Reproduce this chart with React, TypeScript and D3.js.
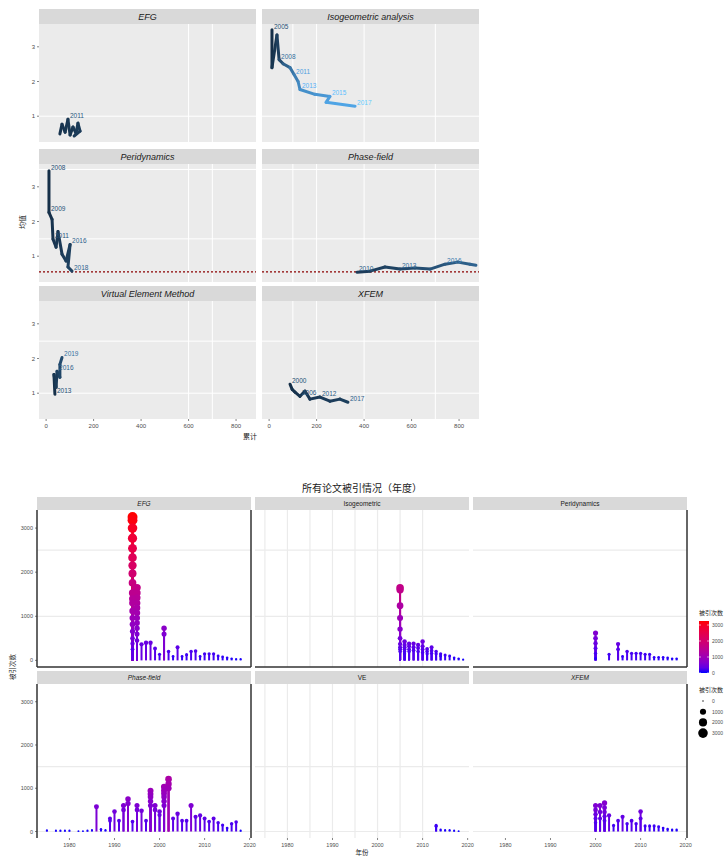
import React from "react";
import * as d3 from "d3";

const FONT = "'Liberation Sans', Arial, sans-serif";
const CJK = "'Noto Sans CJK SC', 'Noto Sans', sans-serif";

// ---------- top chart: trajectories (year, x, y, n) ----------
const topFacets = [
  "EFG",
  "Isogeometric analysis",
  "Peridynamics",
  "Phase-field",
  "Virtual Element Method",
  "XFEM",
];
const efgPath = [
  [2008, 58, 0.49, 6], [2009, 67, 0.77, 7], [2010, 80, 0.54, 8], [2011, 92, 0.91, 9],
  [2012, 101, 0.46, 8], [2013, 113, 0.69, 10], [2014, 126, 0.51, 12], [2015, 134, 0.8, 11],
  [2016, 143, 0.57, 13], [2017, 118, 0.43, 12],
];
const igaPath = [
  [2005, 12, 3.49, 3], [2006, 12, 2.4, 8], [2007, 33, 3.34, 15], [2008, 42, 2.63, 25],
  [2009, 59, 2.51, 40], [2010, 88, 2.4, 55], [2011, 105, 2.2, 62], [2012, 122, 2.0, 70],
  [2013, 130, 1.77, 75], [2014, 193, 1.63, 80], [2015, 256, 1.57, 86], [2016, 240, 1.4, 90],
  [2017, 362, 1.29, 95],
];
const periPath = [
  [2008, 12, 3.46, 2], [2009, 12, 2.26, 4], [2010, 25, 2.06, 6], [2011, 29, 1.49, 7],
  [2012, 42, 1.26, 9], [2013, 50, 1.71, 10], [2014, 67, 1.06, 12], [2015, 84, 0.86, 14],
  [2016, 101, 1.34, 15], [2017, 92, 0.69, 17], [2018, 109, 0.57, 18],
];
const phasePath = [
  [2010, 370, 0.54, 12], [2011, 425, 0.57, 15], [2012, 488, 0.69, 18], [2013, 551, 0.63, 22],
  [2014, 614, 0.66, 26], [2015, 678, 0.63, 30], [2016, 741, 0.77, 34], [2017, 795, 0.83, 38],
  [2018, 846, 0.77, 42], [2019, 871, 0.74, 46],
];
const vemPath = [
  [2013, 37, 0.97, 4], [2014, 33, 1.54, 8], [2015, 42, 1.17, 12], [2016, 46, 1.63, 16],
  [2017, 58, 1.46, 20], [2018, 58, 1.83, 24], [2019, 67, 2.03, 28],
];
const xfemPath = [
  [2000, 88, 1.26, 3], [2002, 97, 1.11, 5], [2004, 109, 1.03, 6], [2006, 130, 0.91, 8],
  [2008, 151, 1.06, 9], [2010, 172, 0.83, 10], [2012, 214, 0.89, 12], [2014, 256, 0.77, 13],
  [2016, 298, 0.83, 14], [2017, 332, 0.74, 15],
];
const topPaths = [efgPath, igaPath, periPath, phasePath, vemPath, xfemPath];
// years that get a text label in each panel
const topLabelYears = [
  [2011],
  [2005, 2008, 2011, 2013, 2015, 2017],
  [2008, 2009, 2011, 2016, 2018],
  [2010, 2013, 2016],
  [2013, 2016, 2019],
  [2000, 2006, 2012, 2017],
];
const topXTicks = [0, 200, 400, 600, 800];
const topYTicks = [1, 2, 3];
const topGridX = [[600, 700], [100, 200, 400, 700]];
const topGridY = [[1], [3.5, 1.5], [2.5, 1]];
const refLine = 0.55;

// ---------- bottom chart: citations per paper by year ----------
const bottomFacets = ["EFG", "Isogeometric", "Peridynamics", "Phase-field", "VE", "XFEM"];
const efgCites: [number, number[]][] = [
  [1994, [3250, 3180, 3000, 2770, 2540, 2330, 2150, 1970, 1760, 1530, 1400, 1300, 1120, 960, 820, 660, 500, 380, 250]],
  [1995, [1650, 1530, 1420, 1300, 1190, 1075, 960, 850, 730, 600, 450]],
  [1996, [365]], [1997, [400]], [1998, [400]], [1999, [270]], [2000, [140]],
  [2001, [730, 600]], [2002, [200]], [2003, [90]], [2004, [300]], [2005, [90]],
  [2006, [130]], [2007, [200]], [2008, [210]], [2009, [90]], [2010, [150]],
  [2011, [150]], [2012, [150]], [2013, [100]], [2014, [80]], [2015, [60]],
  [2016, [40]], [2017, [30]], [2018, [30]],
];
const igaCites: [number, number[]][] = [
  [2005, [1650, 1600, 1240, 960, 710, 500, 370, 300, 250, 200]],
  [2006, [430, 350, 300, 250, 200, 150]], [2007, [380, 320, 250, 200]],
  [2008, [380, 300, 230]], [2009, [350, 280, 200]], [2010, [430, 320, 250, 180]],
  [2011, [260, 200, 150]], [2012, [300, 220, 160]], [2013, [200, 150]],
  [2014, [150, 100]], [2015, [120]], [2016, [100]], [2017, [60]], [2018, [40]], [2019, [20]],
];
const periCites: [number, number[]][] = [
  [2000, [620, 500, 390, 275, 160, 50]], [2003, [140]], [2005, [370, 250]],
  [2006, [90]], [2007, [200]], [2008, [160]], [2009, [160]], [2010, [160]],
  [2011, [140]], [2012, [140]], [2013, [70]], [2014, [70]], [2015, [70]],
  [2016, [60]], [2017, [40]], [2018, [40]],
];
const phaseCites: [number, number[]][] = [
  [1975, [25]], [1977, [20]], [1978, [20]], [1979, [20]], [1980, [20]],
  [1982, [10]], [1983, [10]], [1984, [20]], [1985, [30]], [1986, [570]],
  [1987, [50]], [1988, [30]], [1989, [300, 250]], [1990, [460]], [1991, [250]],
  [1992, [600, 500]], [1993, [750, 650]], [1994, [230]], [1995, [600, 500]],
  [1996, [480]], [1997, [250]], [1998, [940, 870, 800, 700, 600]], [1999, [600, 500]],
  [2000, [460, 380]], [2001, [1030, 950, 880, 800, 700, 600]], [2002, [1210, 1100, 1000]],
  [2003, [300]], [2004, [410]], [2005, [250]], [2006, [250]], [2007, [600]],
  [2008, [340]], [2009, [370]], [2010, [300]], [2011, [230]], [2012, [300]],
  [2013, [200]], [2014, [150]], [2015, [80]], [2016, [180]], [2017, [220]], [2018, [20]],
];
const veCites: [number, number[]][] = [
  [2013, [140, 120]], [2014, [40]], [2015, [30]], [2016, [30]], [2017, [20]], [2018, [10]],
];
const xfemCites: [number, number[]][] = [
  [2000, [600, 500, 400, 300, 200]], [2001, [600, 450, 300]], [2002, [660, 550, 450, 350, 250]],
  [2003, [370]], [2004, [140]], [2005, [250]], [2006, [340]], [2007, [180]],
  [2008, [250]], [2009, [180]], [2010, [460, 300]], [2011, [130]], [2012, [130]],
  [2013, [130]], [2014, [110]], [2015, [80]], [2016, [60]], [2017, [40]], [2018, [40]],
];
const bottomData = [efgCites, igaCites, periCites, phaseCites, veCites, xfemCites];
const yearTicks = [1980, 1990, 2000, 2010, 2020];
const citeTicks = [0, 1000, 2000, 3000];
const citeGrid = [[1000, 2500], [0, 1500]];
const veGridYears = [1975, 1980, 1985, 1990, 1995, 2000, 2005, 2010];
const sizeBreaks = [0, 1000, 2000, 3000];

function TopChart() {
  const colLeft = [39, 262];
  const pw = 217;
  const rowTop = [24, 164, 301];
  const ph = 118;
  const stripH = 15;
  const x = d3.scaleLinear().domain([-30, 884]).range([0, pw]);
  const y = d3.scaleLinear().domain([0.257, 3.657]).range([ph, 0]);
  const col = d3.scaleLinear<string>().domain([0, 100]).range(["#132B43", "#56B1F7"]);

  return (
    <g>
      {topFacets.map((name, i) => {
        const c = i % 2, r = Math.floor(i / 2);
        const px = colLeft[c], py = rowTop[r];
        const pts = topPaths[i];
        const labelled = pts.filter((p) => topLabelYears[i].includes(p[0]));
        return (
          <g key={name} transform={`translate(${px},${py})`}>
            <rect x={0} y={-stripH} width={pw} height={stripH} fill="#D9D9D9" />
            <text x={pw / 2} y={-stripH / 2 + 3} textAnchor="middle" fontSize={9}
              fontStyle="italic" fill="#1A1A1A">{name}</text>
            <rect width={pw} height={ph} fill="#EBEBEB" />
            {topGridX[c].map((v) => (
              <line key={"gx" + v} x1={x(v)} x2={x(v)} y1={0} y2={ph} stroke="#fff" strokeWidth={1} />
            ))}
            {topGridY[r].map((v) => (
              <line key={"gy" + v} x1={0} x2={pw} y1={y(v)} y2={y(v)} stroke="#fff" strokeWidth={1} />
            ))}
            {r === 1 && (
              <line x1={0} x2={pw} y1={y(refLine)} y2={y(refLine)} stroke="#8B0000"
                strokeWidth={1.2} strokeDasharray="2,2" />
            )}
            {pts.slice(1).map((p, k) => {
              const q = pts[k];
              return (
                <line key={"s" + k} x1={x(q[1])} y1={y(q[2])} x2={x(p[1])} y2={y(p[2])}
                  stroke={col(q[3])} strokeWidth={3} strokeLinecap="round" />
              );
            })}
            {labelled.map((p) => (
              <text key={"t" + p[0]} x={x(p[1]) + 2} y={y(p[2]) - 1} fontSize={6.5}
                fill={col(p[3] + 25)}>{p[0]}</text>
            ))}
            {c === 0 &&
              topYTicks.map((v) => (
                <g key={"yt" + v}>
                  <line x1={-2} x2={0} y1={y(v)} y2={y(v)} stroke="#333" strokeWidth={0.6} />
                  <text x={-4} y={y(v) + 2} fontSize={6} textAnchor="end" fill="#4D4D4D">{v}</text>
                </g>
              ))}
            {r === 2 &&
              topXTicks.map((v) => (
                <g key={"xt" + v}>
                  <line x1={x(v)} x2={x(v)} y1={ph} y2={ph + 2} stroke="#333" strokeWidth={0.6} />
                  <text x={x(v)} y={ph + 9} fontSize={6} textAnchor="middle" fill="#4D4D4D">{v}</text>
                </g>
              ))}
          </g>
        );
      })}
      <text x={250} y={439} fontSize={7} textAnchor="middle" fill="#1A1A1A" fontFamily={CJK}>累计</text>
      <text transform="translate(25,222) rotate(-90)" fontSize={7} textAnchor="middle"
        fill="#1A1A1A" fontFamily={CJK}>均值</text>
    </g>
  );
}

function BottomChart() {
  const colLeft = [37, 255, 473];
  const pw = 214;
  const rowTop = [510, 684];
  const rowH = [157, 154];
  const stripH = 13;
  const x = d3.scaleLinear().domain([1972.8, 2020.3]).range([0, pw]);
  const color = d3.scaleLinear<string>().domain([0, 3250]).range(["blue", "red"])
    .interpolate(d3.interpolateLab);
  const size = d3.scaleSqrt().domain([0, 3300]).range([0.7, 5]);

  return (
    <g>
      <text x={362} y={492} fontSize={10} textAnchor="middle" fontFamily={CJK} fill="#1A1A1A">
        所有论文被引情况（年度）
      </text>
      {bottomFacets.map((name, i) => {
        const c = i % 3, r = Math.floor(i / 3);
        const px = colLeft[c], py = rowTop[r], ph = rowH[r];
        const y = d3.scaleLinear().domain([-150, 3410]).range([ph, 0]);
        const items = bottomData[i]
          .flatMap(([yr, vals]) => vals.map((v) => ({ yr, v })))
          .sort((a, b) => b.v - a.v);
        return (
          <g key={name} transform={`translate(${px},${py})`}>
            <rect x={0} y={-stripH} width={pw} height={stripH} fill="#D9D9D9" />
            <text x={pw / 2} y={-stripH / 2 + 2.5} textAnchor="middle" fontSize={6.5}
              fontStyle={i === 0 || i === 3 || i === 5 ? "italic" : "normal"} fill="#1A1A1A">{name}</text>
            <rect width={pw} height={ph} fill="#fff" />
            {c === 1 &&
              veGridYears.map((v) => (
                <line key={"gx" + v} x1={x(v)} x2={x(v)} y1={0} y2={ph} stroke="#EBEBEB" strokeWidth={1.2} />
              ))}
            {citeGrid[r].map((v) => (
              <line key={"gy" + v} x1={0} x2={pw} y1={y(v)} y2={y(v)} stroke="#EBEBEB" strokeWidth={1.2} />
            ))}
            {items.map((d, k) => (
              <line key={"b" + k} x1={x(d.yr)} x2={x(d.yr)} y1={y(0)} y2={y(d.v)}
                stroke={color(d.v)} strokeWidth={2} />
            ))}
            {items.map((d, k) => (
              <circle key={"p" + k} cx={x(d.yr)} cy={y(d.v)} r={size(d.v)} fill={color(d.v)} />
            ))}
            {(c === 0 || c === 2) && (
              <line x1={pw} x2={pw} y1={0} y2={ph} stroke="#333" strokeWidth={1.5} />
            )}
            {c === 0 && <line x1={0} x2={0} y1={0} y2={ph} stroke="#333" strokeWidth={1.5} />}
            {r === 0 && <line x1={0} x2={pw} y1={ph} y2={ph} stroke="#333" strokeWidth={1.5} />}
            {c === 0 &&
              citeTicks.map((v) => (
                <g key={"yt" + v}>
                  <line x1={-2} x2={0} y1={y(v)} y2={y(v)} stroke="#333" strokeWidth={0.6} />
                  <text x={-4} y={y(v) + 2} fontSize={5.5} textAnchor="end" fill="#4D4D4D">{v}</text>
                </g>
              ))}
            {r === 1 &&
              yearTicks.map((v) => (
                <g key={"xt" + v}>
                  <line x1={x(v)} x2={x(v)} y1={ph} y2={ph + 2} stroke="#333" strokeWidth={0.6} />
                  <text x={x(v)} y={ph + 9} fontSize={5.5} textAnchor="middle" fill="#4D4D4D">{v}</text>
                </g>
              ))}
          </g>
        );
      })}
      <text x={362} y={855} fontSize={6.5} textAnchor="middle" fontFamily={CJK} fill="#1A1A1A">年份</text>
      <text transform="translate(15,667) rotate(-90)" fontSize={6.5} textAnchor="middle"
        fontFamily={CJK} fill="#1A1A1A">被引次数</text>
      <Legend color={color} size={size} />
    </g>
  );
}

function Legend({ color, size }: { color: any; size: any }) {
  const barTop = 621, barH = 52, barX = 699;
  const ly = d3.scaleLinear().domain([0, 3250]).range([barTop + barH, barTop]);
  const stops = d3.range(0, 1.01, 0.1);
  return (
    <g>
      <defs>
        <linearGradient id="cbar" x1="0" y1="1" x2="0" y2="0">
          {stops.map((s) => (
            <stop key={s} offset={s} stopColor={color(s * 3250)} />
          ))}
        </linearGradient>
      </defs>
      <text x={barX} y={615} fontSize={6} fontFamily={CJK} fill="#1A1A1A">被引次数</text>
      <rect x={barX} y={barTop} width={10} height={barH} fill="url(#cbar)" />
      {citeTicks.map((v) => (
        <g key={v}>
          <line x1={barX} x2={barX + 2} y1={ly(v)} y2={ly(v)} stroke="#fff" strokeWidth={0.6} />
          <line x1={barX + 8} x2={barX + 10} y1={ly(v)} y2={ly(v)} stroke="#fff" strokeWidth={0.6} />
          <text x={barX + 13} y={ly(v) + 2} fontSize={5} fill="#4D4D4D">{v}</text>
        </g>
      ))}
      <text x={barX} y={692} fontSize={6} fontFamily={CJK} fill="#1A1A1A">被引次数</text>
      {sizeBreaks.map((v, k) => (
        <g key={"s" + v}>
          <circle cx={barX + 4} cy={701 + k * 10.7} r={size(v)} fill="#000" />
          <text x={barX + 13} y={701 + k * 10.7 + 2} fontSize={5} fill="#4D4D4D">{v}</text>
        </g>
      ))}
    </g>
  );
}

export default function App() {
  return (
    <svg width={728} height={856} style={{ position: "absolute", left: 0, top: 0, background: "#fff" }}
      fontFamily={FONT}>
      <rect width={728} height={856} fill="#fff" />
      <TopChart />
      <BottomChart />
    </svg>
  );
}
